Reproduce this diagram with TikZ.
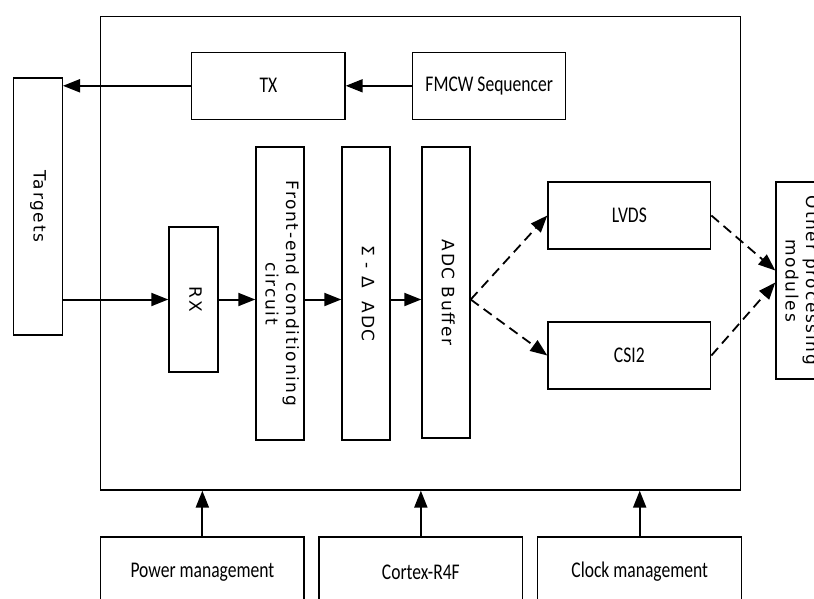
\documentclass[tikz,border=0pt]{standalone}
\usepackage{fontspec}
\usepackage{graphicx}
\usepackage{tikz}
\usetikzlibrary{arrows.meta}
\newfontfamily\calfont{Carlito}
\newfontfamily\vfont[LetterSpace=10]{DejaVu Sans}
\newcommand{\vtext}[1]{\rotatebox{-90}{\begin{tabular}{@{}c@{}}#1\end{tabular}}}
\newcommand{\ctext}[1]{\scalebox{0.9}[1.15]{#1}}

\begin{document}
\begin{tikzpicture}[x=1pt,y=-1pt,>={Triangle[length=17pt,width=13pt]},
  box node/.style={draw,line width=1.4pt,inner sep=0pt,font=\calfont\fontsize{19.5}{23}\selectfont},
  vert node/.style={box node,font=\vfont\fontsize{17}{20.4}\selectfont},
  link/.style={->,line width=2pt},
  dash link/.style={->,line width=1.8pt,dash pattern=on 10pt off 6pt}]
  \useasboundingbox (0,0) rectangle (814,599);
  \clip (0,0) rectangle (814,599);
  \node[draw,line width=1.3pt,minimum width=640pt,minimum height=473.3pt] (chip) at (420.7,253.35) {};
  \node[vert node,minimum width=49pt,minimum height=257pt] (tgt) at (37.8,206.5) {\vtext{Targets}};
  \node[box node,minimum width=153.3pt,minimum height=67pt] (tx) at (268.35,85.8) {\ctext{TX}};
  \node[box node,minimum width=153pt,minimum height=67pt] (seq) at (489.2,85.8) {\ctext{FMCW Sequencer}};
  \node[vert node,minimum width=49pt,minimum height=145pt] (rx) at (193.5,299.5) {\vtext{RX}};
  \node[vert node,minimum width=48pt,minimum height=293pt] (fe) at (280,293.5) {\vtext{Front-end conditioning\\circuit}};
  \node[vert node,minimum width=48pt,minimum height=293pt] (adc) at (366,293.5) {\vtext{Σ - Δ\kern14pt ADC}};
  \node[vert node,minimum width=48pt,minimum height=291pt] (buf) at (446,292.5) {\vtext{ADC Buffer}};
  \node[box node,minimum width=162.7pt,minimum height=67pt] (lvds) at (629.35,215.5) {\ctext{LVDS}};
  \node[box node,minimum width=162.7pt,minimum height=67pt] (csi) at (629.35,355.5) {\ctext{CSI2}};
  \node[vert node,minimum width=48pt,minimum height=197pt] (opm) at (800,280.5) {\vtext{Other processing\\modules}};
  \node[box node,minimum width=203.3pt,minimum height=70pt] (pm) at (202.35,572) {\ctext{Power management}};
  \node[box node,minimum width=203.7pt,minimum height=70pt] (cpu) at (420.85,572) {\ctext{Cortex-R4F}};
  \node[box node,minimum width=204pt,minimum height=70pt] (clk) at (639.7,572) {\ctext{Clock management}};
  \coordinate (fork) at (buf.east |- rx.east);

  \path[link]
    (seq.west) edge (tx.east)
    (tx.west) edge (tx.west -| tgt.east)
    (tgt.east |- rx.west) edge (rx.west)
    (rx.east) edge (rx.east -| fe.west)
    (rx.east -| fe.east) edge (rx.east -| adc.west)
    (rx.east -| adc.east) edge (rx.east -| buf.west)
    (pm.north) edge (pm.north |- chip.south)
    (cpu.north) edge (cpu.north |- chip.south)
    (clk.north) edge (clk.north |- chip.south);
  \path[dash link]
    (fork) edge (lvds.west)
    (fork) edge (csi.west)
    (lvds.east) edge ([yshift=10pt]opm.west)
    (csi.east) edge ([yshift=-2pt]opm.west);
\end{tikzpicture}
\end{document}
